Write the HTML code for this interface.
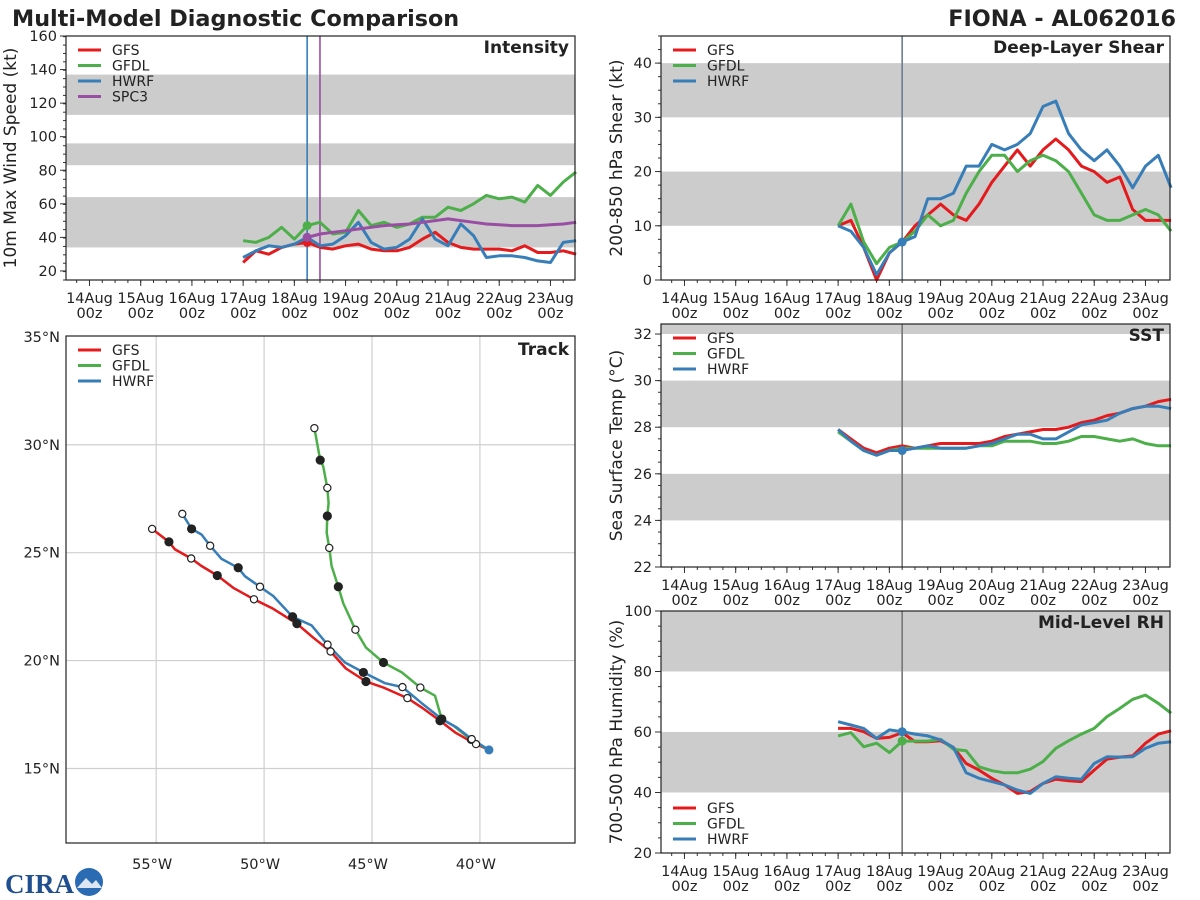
<!DOCTYPE html>
<html><head><meta charset="utf-8">
<style>
html,body{margin:0;padding:0;background:#fff;}
svg{display:block;font-family:"DejaVu Sans","Liberation Sans",sans-serif;}
</style></head>
<body>
<svg id="fig" width="1200" height="900" viewBox="0 0 1200 900" xmlns="http://www.w3.org/2000/svg">
<text x="12" y="26" font-size="22.3" font-weight="bold" fill="#222">Multi-Model Diagnostic Comparison</text>
<text x="1176" y="26" font-size="22.3" font-weight="bold" fill="#222" text-anchor="end">FIONA - AL062016</text>
<g>
<text x="5" y="893" font-size="27" font-weight="bold" fill="#1f4f8f" font-family="Liberation Serif, serif">CIRA</text>
<circle cx="89" cy="882" r="14" fill="#2a6bb3"/>
<path d="M77 888 L86 878 L92 884 L96 880 L102 888 Z" fill="#dde6f2"/>
</g>
</svg>
<script>
// ---- data ----
const modelHours = [72,78,84,90,96,102,108,114,120,126,132,138,144,150,156,162,168,174,180,186,192,198,204,210,216,222,228];
const spcHours = [102,108,114,120,126,132,138,144,150,156,162,168,174,180,186,192,198,204,210,216,222,228];
const dayLabels = ["14Aug","15Aug","16Aug","17Aug","18Aug","19Aug","20Aug","21Aug","22Aug","23Aug"];

const intGFS  = [25,32,30,34,36,37,34,33,35,36,33,32,32,34,39,43,37,34,33,33,33,32,35,31,31,32,30];
const intGFDL = [38,37,40,46,39,47,49,42,43,56,47,49,46,48,52,52,58,56,60,65,63,64,61,71,65,73,79];
const intHWRF = [28,32,35,34,36,40,35,36,41,49,37,33,34,39,51,39,35,48,41,28,29,29,28,26,25,37,38];
const intSPC3 = [40,42,43,44,45,46,47,47.5,48,49,50,51,50,49,48,47.5,47,47,47,47.5,48,49];

const shrGFS  = [10,11,6,0,5,7,10,12,14,12,11,14,18,21,24,21,24,26,24,21,20,18,19,13,11,11,11];
const shrGFDL = [10,14,7,3,6,7,9,12,10,11,16,20,23,23,20,22,23,22,20,16,12,11,11,12,13,12,9];
const shrHWRF = [10,9,6,1,5,7,8,15,15,16,21,21,25,24,25,27,32,33,27,24,22,24,21,17,21,23,17];

const sstGFS  = [27.9,27.5,27.1,26.9,27.1,27.2,27.1,27.2,27.3,27.3,27.3,27.3,27.4,27.6,27.7,27.8,27.9,27.9,28.0,28.2,28.3,28.5,28.6,28.8,28.9,29.1,29.2];
const sstGFDL = [27.8,27.4,27.0,26.8,27.0,27.1,27.1,27.1,27.1,27.1,27.1,27.2,27.2,27.4,27.4,27.4,27.3,27.3,27.4,27.6,27.6,27.5,27.4,27.5,27.3,27.2,27.2];
const sstHWRF = [27.9,27.4,27.0,26.8,27.0,27.0,27.1,27.2,27.1,27.1,27.1,27.2,27.3,27.5,27.7,27.7,27.5,27.5,27.8,28.1,28.2,28.3,28.6,28.8,28.9,28.9,28.8];

const rhGFS  = [61.2,61.2,60.1,57.9,58.2,59.8,56.8,56.8,57.1,54.9,49.6,47.4,44.7,42.5,39.7,40.3,43.0,44.4,43.9,43.6,47.4,51.0,51.7,52.1,56.3,59.3,60.4];
const rhGFDL = [58.7,59.8,55.1,56.3,53.2,57.0,57.0,57.0,57.6,54.3,53.8,48.5,47.2,46.5,46.5,47.7,50.2,54.6,57.1,59.3,61.2,65.1,67.8,70.8,72.2,69.5,66.2];
const rhHWRF = [63.4,62.3,61.2,57.9,60.7,60.1,59.3,58.7,57.4,54.9,46.5,44.7,43.6,42.5,40.8,39.7,43.0,45.2,44.7,44.4,49.6,51.8,51.7,51.8,54.6,56.3,56.8];

const trkGFSLon = [-39.58,-40.18,-40.61,-41.15,-41.85,-42.70,-43.36,-44.47,-45.28,-46.21,-46.92,-47.72,-48.48,-49.58,-50.47,-51.43,-52.17,-52.90,-53.38,-54.13,-54.41,-55.19];
const trkGFSLat = [15.86,16.13,16.36,16.67,17.21,17.83,18.26,18.75,19.03,19.63,20.42,21.06,21.71,22.40,22.84,23.37,23.94,24.38,24.73,25.15,25.50,26.10];
const trkGFSMk  = ["","o","","","f","","o","","f","","o","","f","","o","","f","","o","","f","o"];
const trkHWRFLon = [-39.58,-40.38,-41.07,-41.77,-42.70,-43.59,-44.40,-45.40,-46.25,-47.06,-47.80,-48.68,-49.58,-50.19,-50.89,-51.20,-51.97,-52.50,-52.90,-53.36,-53.79];
const trkHWRFLat = [15.86,16.36,16.90,17.29,18.03,18.77,18.95,19.45,19.91,20.74,21.63,22.03,22.99,23.42,23.91,24.30,24.71,25.32,25.84,26.10,26.80];
const trkHWRFMk  = ["","o","","f","","o","","f","","o","","f","","o","","f","","o","","f","o"];
const trkGFDLLon = [-39.58,-40.41,-41.23,-41.77,-42.08,-42.76,-43.62,-44.47,-45.28,-45.77,-46.33,-46.56,-46.87,-46.98,-47.10,-47.07,-47.01,-47.07,-47.26,-47.40,-47.67];
const trkGFDLLat = [15.86,16.33,16.98,17.29,18.37,18.75,19.45,19.91,20.60,21.43,22.65,23.42,24.38,25.22,25.92,26.70,27.30,28.00,29.00,29.29,30.77];
const trkGFDLMk  = ["","o","","f","","o","","f","","o","","f","","o","","f","","o","","f","o"];

const C = {GFS:"#e41a1c", GFDL:"#4daf4a", HWRF:"#377eb8", SPC3:"#984ea3"};
const NS = "http://www.w3.org/2000/svg";
const svg = document.getElementById("fig");
function mk(tag, attrs, parent){
  const e = document.createElementNS(NS, tag);
  for (const k in attrs) e.setAttribute(k, attrs[k]);
  (parent||svg).appendChild(e);
  return e;
}
function txt(s, attrs, parent){ const t = mk("text", attrs, parent); t.textContent = s; return t; }

function timePanel(cfg){
  const g = mk("g", {});
  
  
  const L=cfg.x0, R=cfg.x1, T=cfg.y0, B=cfg.y1;
  const tmin=-11, tmax=227.5;
  const X = t => L + (t - tmin)/(tmax - tmin)*(R-L);
  const Y = v => B - (v - cfg.ymin)/(cfg.ymax - cfg.ymin)*(B-T);
  cfg.bands.forEach(b=>{
    const r = mk("rect",{x:L,y:Y(Math.min(b[1],cfg.ymax)),width:R-L,height:Y(b[0])-Y(Math.min(b[1],cfg.ymax)),fill:"#cccccc"},g);
    
    
  });
  for (let v=cfg.ymin; v<=cfg.ymax+1e-9; v+=cfg.minor){
    const y=Y(v); mk("line",{x1:L-3,x2:L,y1:y,y2:y,stroke:"#333","stroke-width":1},g);
  }
  cfg.yticks.forEach(v=>{
    const y=Y(v);
    mk("line",{x1:L-6,x2:L,y1:y,y2:y,stroke:"#333","stroke-width":1},g);
    const t=txt(String(v),{x:L-9,y:y+5,"font-size":14.5,"text-anchor":"end",fill:"#222"},g);
    
    
  });
  for (let h=-6; h<=tmax; h+=6){
    const x=X(h); mk("line",{x1:x,x2:x,y1:B,y2:B+3,stroke:"#333","stroke-width":1},g);
  }
  dayLabels.forEach((d,i)=>{
    const x=X(i*24);
    mk("line",{x1:x,x2:x,y1:B,y2:B+6,stroke:"#333","stroke-width":1},g);
    const t1=txt(d,{x:x,y:B+23,"font-size":14.5,"text-anchor":"middle",fill:"#222"},g);
    
    
    txt("00z",{x:x,y:B+38,"font-size":14.5,"text-anchor":"middle",fill:"#222"},g);
  });
  const yl=txt(cfg.ylabel,{x:0,y:0,"font-size":17,"text-anchor":"middle",fill:"#222",transform:`translate(${cfg.ylx},${(T+B)/2}) rotate(-90)`},g);
  
  
  cfg.vlines.forEach(v=>{
    const l=mk("line",{x1:X(v[0]),x2:X(v[0]),y1:T,y2:B,stroke:v[1],"stroke-width":1.6},g);
    
    
  });
  cfg.series.forEach(s=>{
    const pts = s.vals.map((v,i)=>X(s.hours[i]).toFixed(1)+","+Y(v).toFixed(1)).join(" ");
    const p=mk("polyline",{points:pts,fill:"none",stroke:s.color,"stroke-width":3,"stroke-linejoin":"round"},g);
    
    
    if (s.dot!=null){
      const i=s.dot;
      const c=mk("circle",{cx:X(s.hours[i]),cy:Y(s.vals[i]),r:4.5,fill:s.color},g);
      
      
    }
  });
  mk("rect",{x:L,y:T,width:R-L,height:B-T,fill:"none",stroke:"#222","stroke-width":1.2},g);
  const tt=txt(cfg.title,{x:R-6,y:T+17,"font-size":17,"font-weight":"bold","text-anchor":"end",fill:"#222"},g);
  
  
  legend(g, L, cfg.legY, cfg.series.map(s=>s.name));
}
function legend(g, L, y0, names){
  const lg = mk("g",{},g);
  
  
  names.forEach((n,i)=>{
    const y=y0+i*15.5;
    mk("line",{x1:L+12,x2:L+35,y1:y,y2:y,stroke:C[n],"stroke-width":3},lg);
    const t=txt(n,{x:L+46,y:y+5,"font-size":14,fill:"#222"},lg);
    
    
  });
}
function S(name, vals, hours, dot){ return {name, vals, hours:hours||modelHours, color:C[name], dot}; }

timePanel({name:"intensity-panel",x0:66,x1:575,y0:36,y1:280,ymin:14.6,ymax:160,minor:5,
  yticks:[20,40,60,80,100,120,140,160],bands:[[34,64],[83,96],[113,137]],
  ylabel:"10m Max Wind Speed (kt)",ylx:16,title:"Intensity",legY:50,
  vlines:[[102,"#377eb8"],[108,"#984ea3"]],
  series:[S("GFS",intGFS,null,5),S("GFDL",intGFDL,null,5),S("HWRF",intHWRF,null,5),S("SPC3",intSPC3,spcHours,0)]});
timePanel({name:"shear-panel",x0:661,x1:1170,y0:36,y1:280,ymin:0,ymax:45,minor:2.5,
  yticks:[0,10,20,30,40],bands:[[10,20],[30,40]],
  ylabel:"200-850 hPa Shear (kt)",ylx:622,title:"Deep-Layer Shear",legY:50,
  vlines:[[102,"#6b7f90"]],
  series:[S("GFS",shrGFS),S("GFDL",shrGFDL),S("HWRF",shrHWRF,null,5)]});
timePanel({name:"sst-panel",x0:661,x1:1170,y0:324,y1:567,ymin:22,ymax:32.43,minor:0.5,
  yticks:[22,24,26,28,30,32],bands:[[24,26],[28,30],[32,33]],
  ylabel:"Sea Surface Temp (°C)",ylx:622,title:"SST",legY:338,
  vlines:[[102,"#777"]],
  series:[S("GFS",sstGFS),S("GFDL",sstGFDL),S("HWRF",sstHWRF,null,5)]});
timePanel({name:"rh-panel",x0:661,x1:1170,y0:611,y1:853,ymin:20,ymax:100,minor:5,
  yticks:[20,40,60,80,100],bands:[[40,60],[80,100]],
  ylabel:"700-500 hPa Humidity (%)",ylx:622,title:"Mid-Level RH",legY:808,
  vlines:[[102,"#777"]],
  series:[S("GFS",rhGFS),S("GFDL",rhGFDL,null,5),S("HWRF",rhHWRF,null,5)]});

// ---- track panel ----
(function(){
  const g = mk("g",{});
  
  
  const L=66,R=575,T=336,B=843;
  const lonMin=-59.18, latMax=35.04, pd=21.58;
  const X = lon => L + (lon - lonMin)*pd;
  const Y = lat => T + (latMax - lat)*pd;
  [-55,-50,-45,-40].forEach(lo=>{
    const x=X(lo);
    mk("line",{x1:x,x2:x,y1:T,y2:B,stroke:"#cfcfcf","stroke-width":1.2},g);
    const t=txt((-lo)+"°W",{x:x-4,y:B+26,"font-size":14.5,"text-anchor":"middle",fill:"#222"},g);
    
    
  });
  [15,20,25,30,35].forEach(la=>{
    const y=Y(la);
    if (la<35) mk("line",{x1:L,x2:R,y1:y,y2:y,stroke:"#cfcfcf","stroke-width":1.2},g);
    const t=txt(la+"°N",{x:L-6,y:y+5,"font-size":14.5,"text-anchor":"end",fill:"#222"},g);
    
    
  });
  const tracks=[["GFS",trkGFSLon,trkGFSLat,trkGFSMk],["GFDL",trkGFDLLon,trkGFDLLat,trkGFDLMk],["HWRF",trkHWRFLon,trkHWRFLat,trkHWRFMk]];
  tracks.forEach(tr=>{
    const pts=tr[1].map((lo,i)=>X(lo).toFixed(1)+","+Y(tr[2][i]).toFixed(1)).join(" ");
    const p=mk("polyline",{points:pts,fill:"none",stroke:C[tr[0]],"stroke-width":2.5,"stroke-linejoin":"round"},g);
    
    
  });
  tracks.forEach(tr=>{
    tr[3].forEach((m,i)=>{
      if(!m) return;
      const c=mk("circle",{cx:X(tr[1][i]),cy:Y(tr[2][i]),r:m==="f"?4:3.6,fill:m==="f"?"#222":"#fff",stroke:"#222","stroke-width":1.2},g);
      
      
    });
  });
  const st=mk("circle",{cx:X(trkHWRFLon[0]),cy:Y(trkHWRFLat[0]),r:4.5,fill:C.HWRF},g);
  
  
  mk("rect",{x:L,y:T,width:R-L,height:B-T,fill:"none",stroke:"#222","stroke-width":1.2},g);
  const tt=txt("Track",{x:R-6,y:T+19,"font-size":17,"font-weight":"bold","text-anchor":"end",fill:"#222"},g);
  
  
  legend(g, L, 350, ["GFS","GFDL","HWRF"]);
})();
</script>
</body></html>
